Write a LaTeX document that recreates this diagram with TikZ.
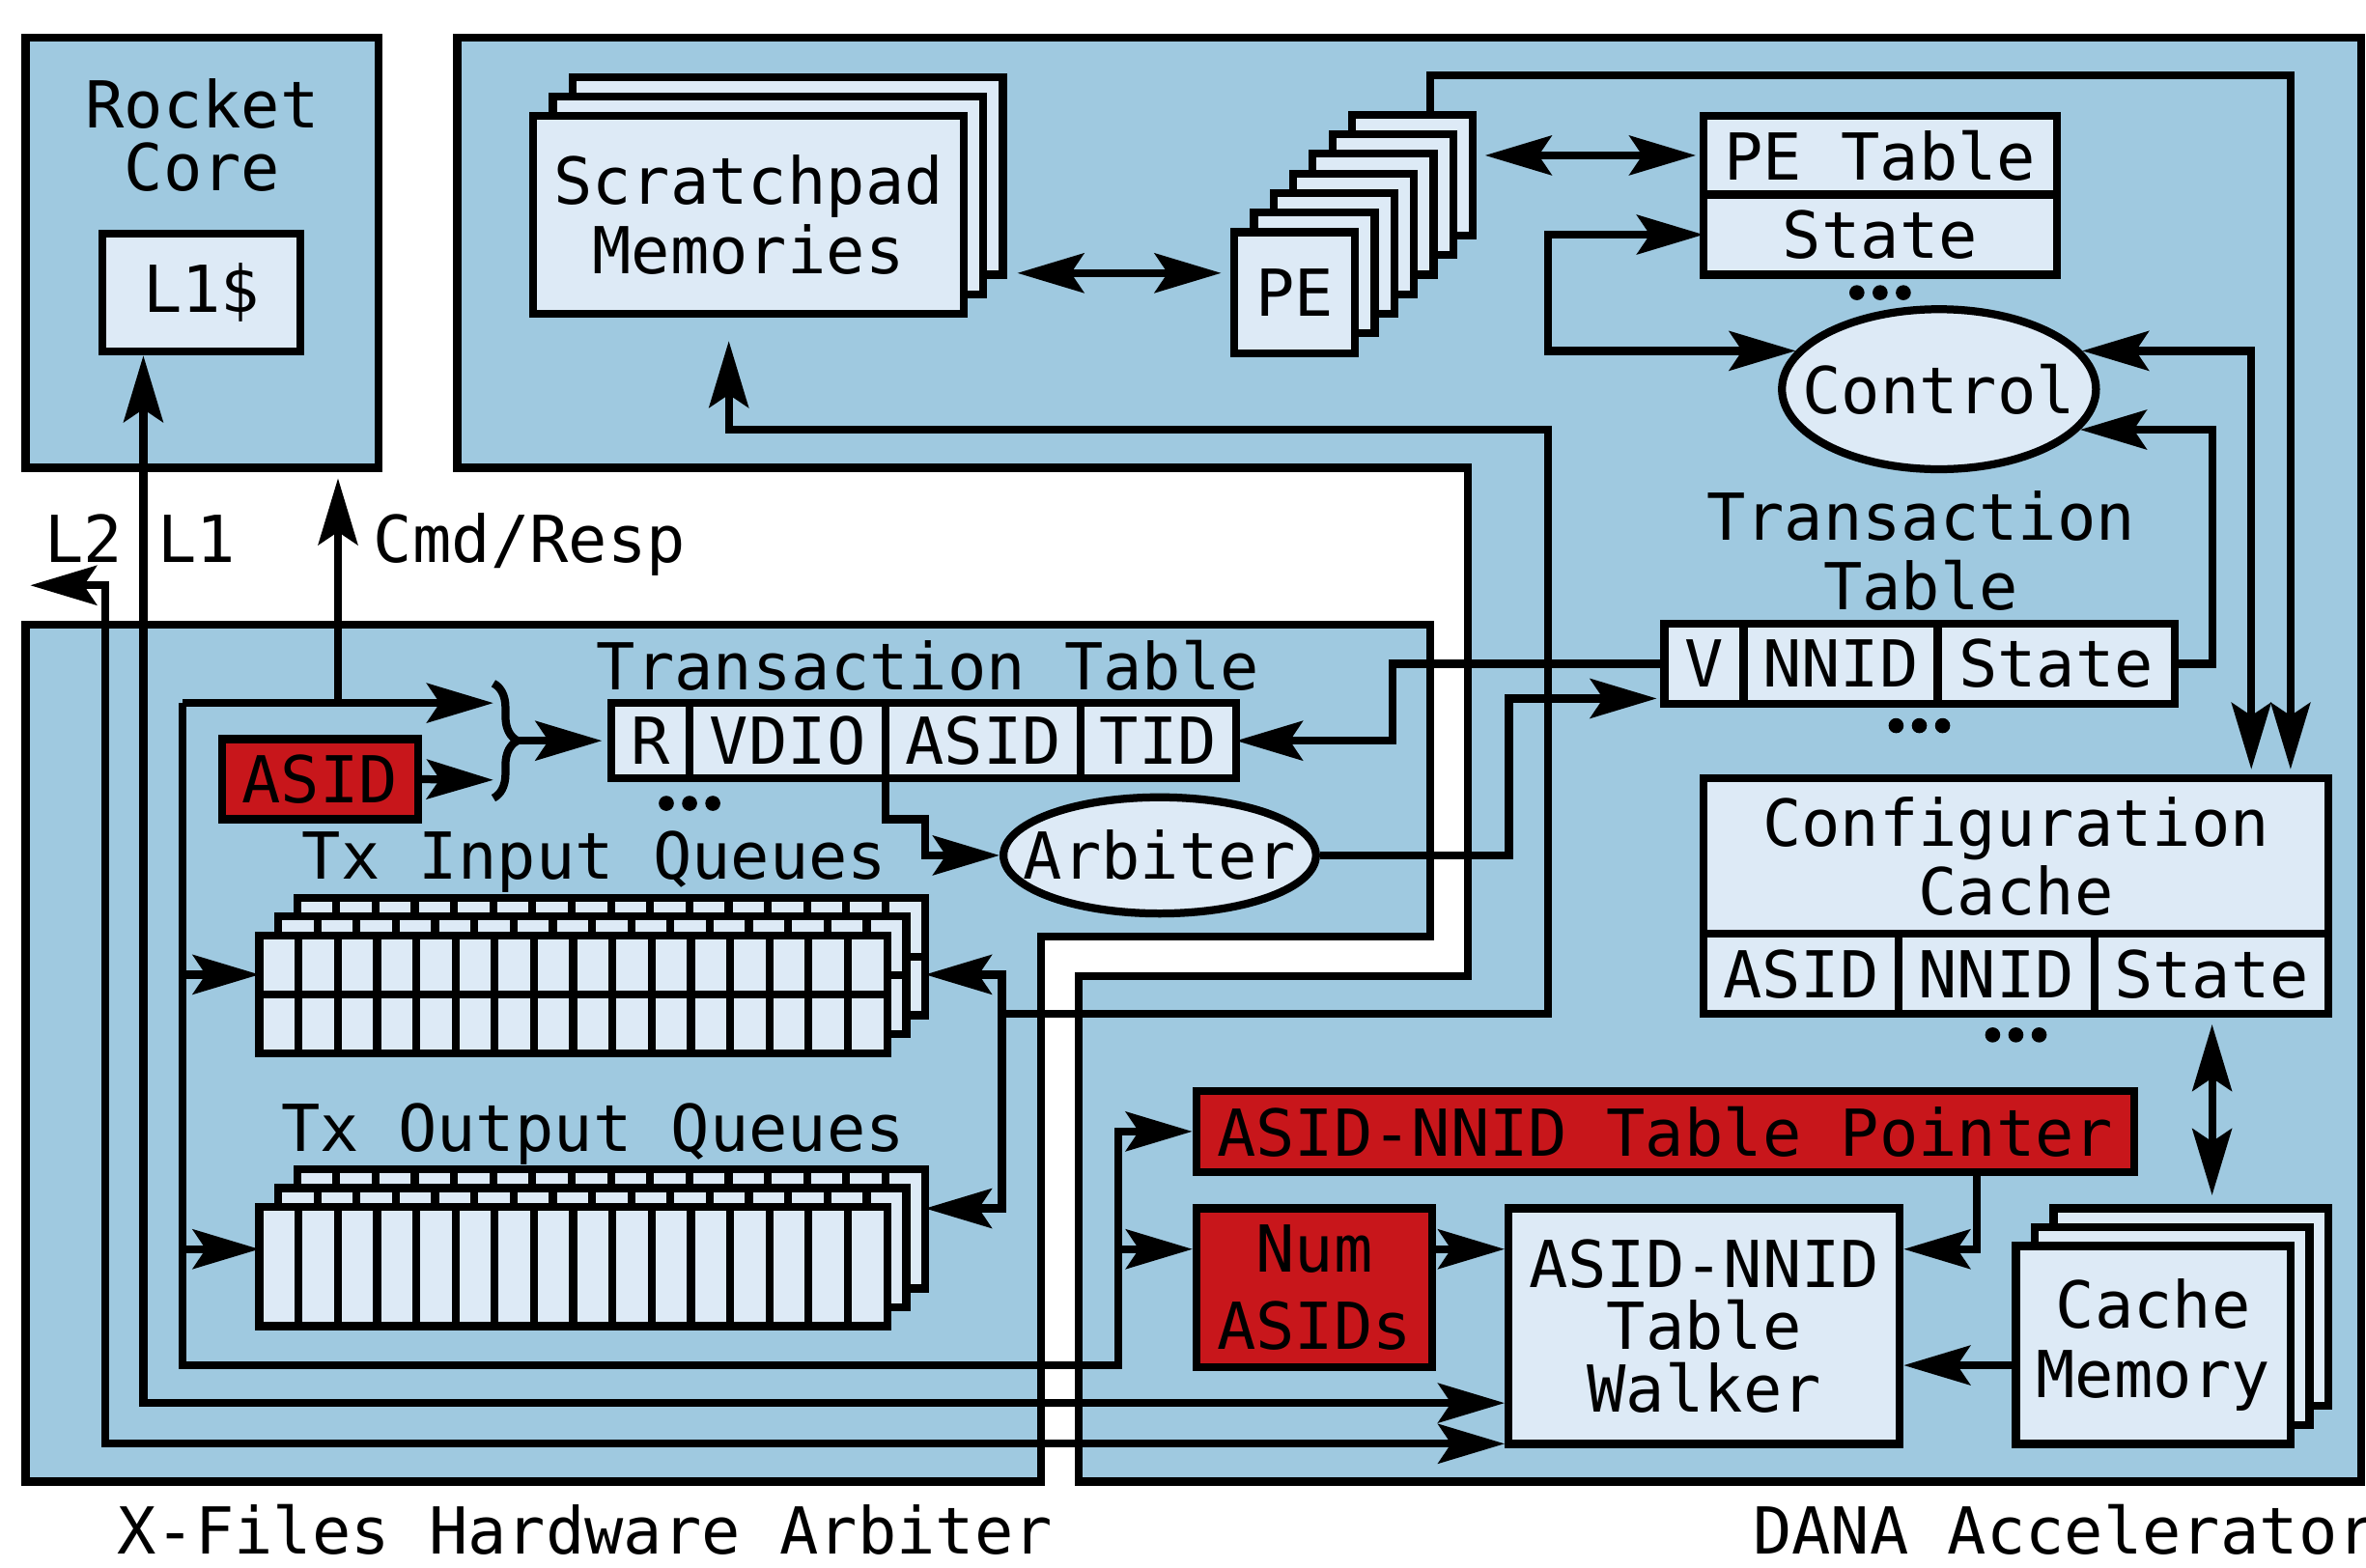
\documentclass[tikz,border=0pt]{standalone}
\usepackage{fontspec}
\setmainfont{DejaVu Sans Mono}
\usetikzlibrary{arrows.meta,positioning,calc,shapes.geometric,decorations.pathreplacing}

\definecolor{dblue}{HTML}{9FC9E0}
\definecolor{lblue}{HTML}{DDEAF6}
\definecolor{dred}{HTML}{C8161B}

\tikzset{
  region/.style={draw, fill=dblue},
  box/.style={draw, fill=lblue, inner sep=1pt, align=center},
  regbox/.style={box, fill=dred},
  cell/.style={box, outer sep=0pt},
  qlayer/.style={draw, fill=lblue, inner sep=0pt, outer sep=0pt, minimum width=4.16cm, minimum height=0.78cm},
  tight/.style={font=\fontsize{12.2}{11.8}\selectfont},
}

\begin{document}
\begin{tikzpicture}[x=0.01cm, y=-0.01cm, line width=1.5pt,
  >={Stealth[length=4.4mm,width=2.6mm,inset=0.85mm]},
  font=\fontsize{12.2}{13.2}\selectfont]
\useasboundingbox (0,0) rectangle (1568,1039);

% regions
\draw[region] (17,25) rectangle (251,310);
\draw[region] (303,25) -- (1565,25) -- (1565,982) -- (715,982) -- (715,647)
  -- (973,647) -- (973,310) -- (303,310) -- cycle;
\draw[region] (17,414) -- (948,414) -- (948,621) -- (690,621) -- (690,982)
  -- (17,982) -- cycle;

% rocket core
\node[tight, align=center] (rocket) at (134,89.5) {Rocket\\Core};
\node[box, minimum width=1.31cm, minimum height=0.78cm] (l1c) at (133.5,194) {L1\$};

% DANA
\foreach \k in {2,1}
  \node[box, minimum width=2.85cm, minimum height=1.31cm] (sp\k) at ({496+13*\k},{142.5-13*\k}) {};
\node[box, minimum width=2.85cm, minimum height=1.31cm] (sp0) at (496,142.5) {Scratchpad\\Memories};

\foreach \k in {6,...,1}
  \node[box, minimum size=0.8cm] (pe\k) at ({858+13*\k},{194-13*\k}) {};
\node[box, minimum size=0.8cm] (pe0) at (858,194) {PE};

\node[cell, minimum width=2.34cm, minimum height=0.52cm] (petab) at (1246,103) {PE Table};
\node[cell, minimum width=2.34cm, minimum height=0.53cm, below=0pt of petab] (pestate) {State};

\node[box, ellipse, inner xsep=-0.18cm, minimum width=2.08cm, minimum height=1.06cm] (ctrl) at (1285,258) {Control};

\node[align=center] (dttlbl) at (1273,365) {Transaction\\Table};
\node[cell, minimum width=0.525cm, minimum height=0.53cm] (dV) at (1129.25,440) {V};
\node[cell, minimum width=1.285cm, minimum height=0.53cm, right=0pt of dV] (dNNID) {NNID};
\node[cell, minimum width=1.57cm, minimum height=0.53cm, right=0pt of dNNID] (dState) {State};

\node[cell, tight, minimum width=4.14cm, minimum height=1.03cm] (cfg) at (1336,567.5) {Configuration\\Cache};
\node[cell, minimum width=1.29cm, minimum height=0.53cm] (cASID) at (1193.5,645.5) {ASID};
\node[cell, minimum width=1.30cm, minimum height=0.53cm, right=0pt of cASID] (cNNID) {NNID};
\node[cell, minimum width=1.55cm, minimum height=0.53cm, right=0pt of cNNID] (cState) {State};

\node[regbox, minimum width=6.21cm, minimum height=0.535cm] (ptr) at (1103.5,750) {ASID-NNID Table Pointer};
\node[regbox, font=\fontsize{12.2}{14.6}\selectfont, minimum width=1.56cm, minimum height=1.05cm] (nasid) at (871,853.5) {Num\\ASIDs};
\node[box, tight, minimum width=2.59cm, minimum height=1.56cm] (walker) at (1129.4,879) {ASID-NNID\\Table\\Walker};

\foreach \k in {2,1}
  \node[box, minimum width=1.82cm, minimum height=1.31cm] (cm\k) at ({1427+12.5*\k},{891.5-12.5*\k}) {};
\node[box, minimum width=1.82cm, minimum height=1.31cm] (cm0) at (1427,891.5) {Cache\\Memory};

% X-Files arbiter
\node[anchor=base] (ttlbl) at (615,457) {Transaction Table};
\node[cell, minimum width=0.52cm, minimum height=0.50cm] (ttR) at (431,491) {R};
\node[cell, minimum width=1.30cm, minimum height=0.50cm, right=0pt of ttR] (ttVDIO) {VDIO};
\node[cell, minimum width=1.29cm, minimum height=0.50cm, right=0pt of ttVDIO] (ttASID) {ASID};
\node[cell, minimum width=1.03cm, minimum height=0.50cm, right=0pt of ttASID] (ttTID) {TID};

\node[regbox, minimum width=1.30cm, minimum height=0.53cm] (asid) at (212,516.5) {ASID};
\node[box, ellipse, inner xsep=-0.18cm, minimum width=2.07cm, minimum height=0.77cm] (arb) at (768.6,567) {Arbiter};

\node[anchor=base] (inlbl) at (394,583) {Tx Input Queues};
\node[anchor=base] (outlbl) at (393,763) {Tx Output Queues};

\foreach \k in {2,1,0} {
  \node[qlayer] (inq\k) at ({380+12.5*\k},{659-12.5*\k}) {};
  \foreach \c in {1,...,15}
    \draw (inq\k.north west) ++(26*\c,0) -- ++(0,78);
  \draw (inq\k.west) -- (inq\k.east);
}
\foreach \k in {2,1,0} {
  \node[qlayer, minimum height=0.79cm] (outq\k) at ({380+12.5*\k},{839.5-12.5*\k}) {};
  \foreach \c in {1,...,15}
    \draw (outq\k.north west) ++(26*\c,0) -- ++(0,79);
}

% row dots
\foreach \x/\y in {457/532.5, 1246/194, 1272/481, 1336/686}
  \foreach \d in {-15.4,0,15.4}
    \fill ({\x+\d},\y) circle (0.05cm);

% labels outside
\node[anchor=base west, inner sep=0pt] (l2lbl) at (27,373) {L2};
\node[anchor=base west, inner sep=0pt] (l1lbl) at (102,373) {L1};
\node[anchor=base west, inner sep=0pt] (cmdlbl) at (245,373) {Cmd/Resp};
\node[anchor=base west, inner sep=0pt] (xflbl) at (75,1030) {X-Files Hardware Arbiter};
\node[anchor=base west, inner sep=0pt] (danalbl) at (1159,1030) {DANA Accelerator};

% brace
\draw[decorate, decoration={brace, amplitude=0.16cm}] (327,453) -- (327,529);

% connectors
\coordinate (busNW) at (121,466);
\coordinate (busSW) at (121,905);
\coordinate (busSE) at (741,905);
\coordinate (brtop) at (327,466);
\coordinate (brbot) at (327,517);
\coordinate (brtip) at (343,491);
\coordinate (cmdend) at (224,317);
\coordinate (l2end) at (20,388);
\coordinate (qj) at (664,672);
\coordinate (spin) at (483,226);

\draw[->] (busNW -| cmdend) -- (cmdend);
\draw[->] (busNW) -- (brtop);
\draw[->] (busNW) -- (busSW) -- (busSE) |- (ptr.west);
\draw[->] (busSW |- 0,646) -- (inq0.west |- 0,646);
\draw[->] (busSW |- 0,828) -- (outq0.west |- 0,828);
\draw[->] (busSE |- 0,828) -- (nasid.west |- 0,828);
\draw[->] (asid.east) -- (brbot);
\draw[->, shorten >=0.6mm] (brtip) -- (ttR.west);
\draw[->] (ttVDIO.south east) |- (613,543) |- (arb.west);
\draw[->, shorten >=0.5mm] (arb.east) -| (1000,463) -- (dV.west |- 0,463);
\draw[->] (dV.west) -| (923,491) -- (ttTID.east);
\draw[->] (dState.east) -| (1466,0 |- ctrl.-16) -- (ctrl.-16);
\draw[<->] (pestate.west) -| (1026,0 |- ctrl.165) -- (ctrl.165);
\draw[<->, shorten >=0.6mm] (ctrl.15) -| (1492,0 |- cfg.north);
\draw[->, shorten >=0.6mm] (pe6.north -| 948,0) |- (1518,50) -- (1518,0 |- cfg.north);
\draw[<->, shorten <=0.55mm, shorten >=0.5mm] (pe6.east |- petab.west) -- (petab.west);
\draw[<->, shorten <=0.7mm, shorten >=0.6mm] (sp2.east |- 0,181) -- (pe0.west |- 0,181);
\draw[->] (qj) -- (1026,672) -- (1026,285) -- (483,285) -- (spin);
\draw[->] (qj) |- (inq2.east |- 0,646);
\draw[->] (qj) |- (outq2.east |- 0,801);
\draw[<->] (l1c.south -| 95,0) -- (95,930) -- (walker.west |- 0,930);
\draw[<->] (l2end) -| (70,957) -- (walker.west |- 0,957);
\draw[->] (nasid.east |- 0,828) -- (walker.west |- 0,828);
\draw[->] (ptr.south -| 1310,0) |- (walker.east |- 0,828);
\draw[->] (cm0.west |- 0,905) -- (walker.east |- 0,905);
\draw[<->, shorten <=0.7mm, shorten >=0.6mm] (cState.south -| 1466,0) -- (cm2.north -| 1466,0);
\end{tikzpicture}
\end{document}
